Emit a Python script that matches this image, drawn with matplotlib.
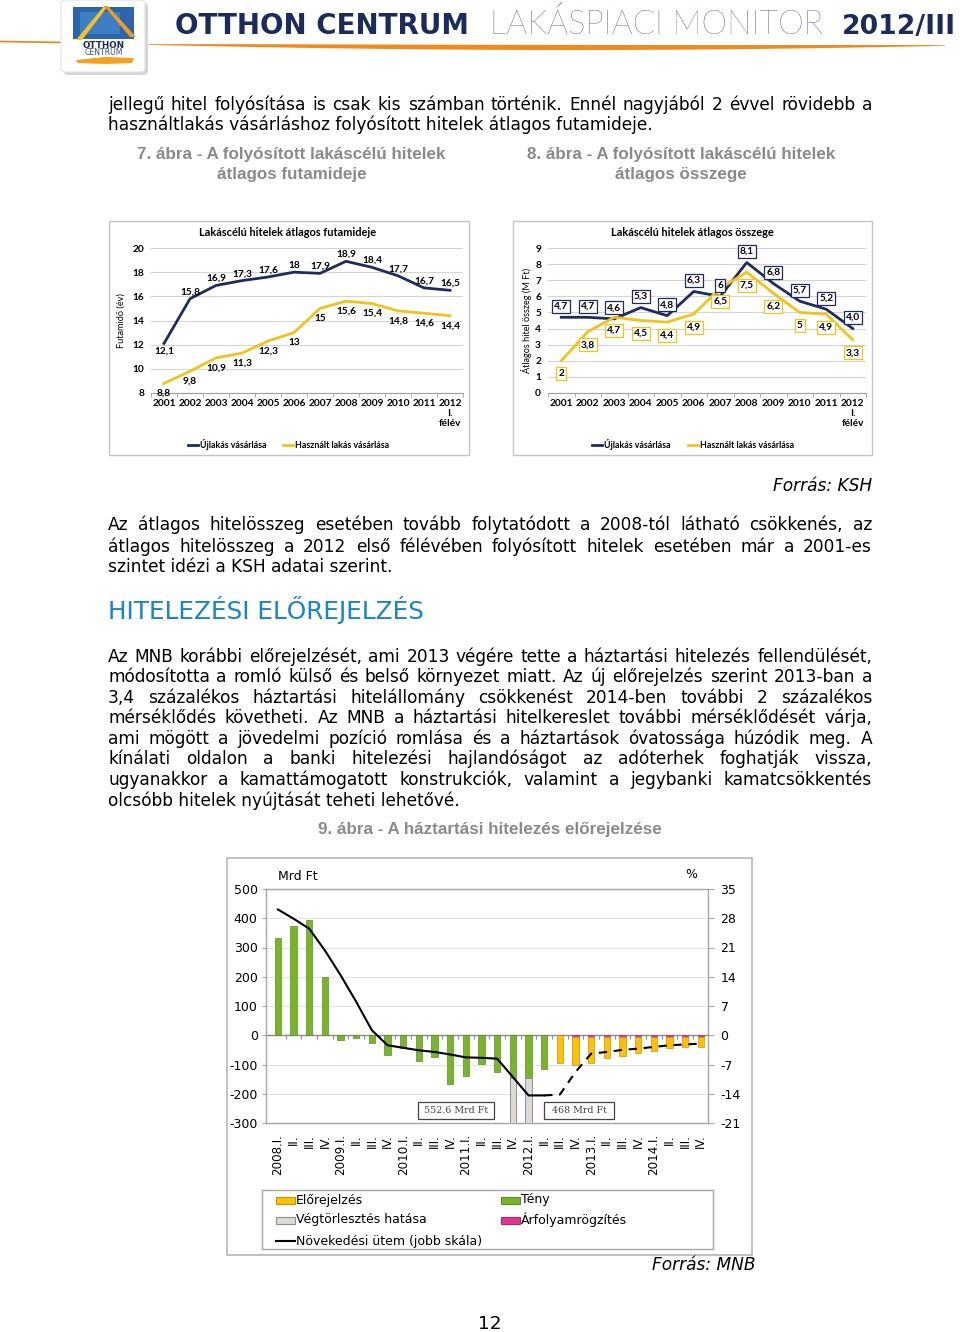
import numpy as np
import matplotlib
matplotlib.use('Agg')
import matplotlib.pyplot as plt
from matplotlib import font_manager as fm
from matplotlib.patches import Rectangle, FancyBboxPatch, Polygon

plt.rcParams['axes.unicode_minus'] = False

# ------------------------------------------------------------------ data
years = ['2001', '2002', '2003', '2004', '2005', '2006', '2007', '2008',
         '2009', '2010', '2011', '2012\nI.\nfélév']
term_new = [12.1, 15.8, 16.9, 17.3, 17.6, 18, 17.9, 18.9, 18.4, 17.7, 16.7, 16.5]
term_used = [8.8, 9.8, 10.9, 11.3, 12.3, 13, 15, 15.6, 15.4, 14.8, 14.6, 14.4]
amount_new = [4.7, 4.7, 4.6, 5.3, 4.8, 6.3, 6, 8.1, 6.8, 5.7, 5.2, 4.0]
amount_used = [2, 3.8, 4.7, 4.5, 4.4, 4.9, 6.5, 7.5, 6.2, 5, 4.9, 3.3]
amount_new_lbl = ['4,7', '4,7', '4,6', '5,3', '4,8', '6,3', '6', '8,1', '6,8', '5,7', '5,2', '4,0']

quarters = ['2008.I.', 'II.', 'III.', 'IV.', '2009.I.', 'II.', 'III.', 'IV.',
            '2010.I.', 'II.', 'III.', 'IV.', '2011.I.', 'II.', 'III.', 'IV.',
            '2012.I.', 'II.', 'III.', 'IV.', '2013.I.', 'II.', 'III.', 'IV.',
            '2014.I.', 'II.', 'III.', 'IV.']
actual = [334, 373, 394, 199, -15, -8, -25, -66, -43, -87, -76, -165,
          -140, -97, -125, -147, -147, -117]
fx_fixing = [0, -6, -6, -6, -6, -6, -6, -6, -6, -6]
forecast = [-94, -94, -88, -71, -64, -54, -47, -39, -34, -34]
prepay = [0, 0, 0, 0, 0, 0, 0, 0, 0, 0, 0, 0, 0, 0, 0, -552.6, -468, 0,
          0, 0, 0, 0, 0, 0, 0, 0, 0, 0]
growth = [30.1, 27.9, 25.5, 20.3, 14.4, 8.0, 1.2, -2.4, -3.0, -3.6, -4.0, -4.6,
          -5.3, -5.4, -5.6, -10.0, -14.4, -14.4, -14.2, -8.8, -4.4, -4.0, -3.5,
          -3.2, -2.8, -2.4, -2.2, -2.0]

# ------------------------------------------------------------------ page
W, H = 960, 1332
fig = plt.figure(figsize=(W / 100, H / 100), dpi=100)
bg = fig.add_axes([0, 0, 1, 1], zorder=0)
bg.set_xlim(0, W)
bg.set_ylim(H, 0)
bg.axis('off')
renderer = fig.canvas.get_renderer()


def has_font(name):
    try:
        fm.findfont(fm.FontProperties(family=name), fallback_to_default=False)
        return True
    except Exception:
        return False


NARROW = 'Liberation Sans Narrow' if has_font('Liberation Sans Narrow') else 'Liberation Sans'
SMALL = 'Lato' if has_font('Lato') else 'DejaVu Sans'


def px_axes(x0, y0, x1, y1, **kw):
    return fig.add_axes([x0 / W, 1 - y1 / H, (x1 - x0) / W, (y1 - y0) / H], **kw)


def measure(s, **kw):
    t = bg.text(0, 0, s, **kw)
    w = t.get_window_extent(renderer).width
    t.remove()
    return w


def fit_size(s, width, base=12.0, **kw):
    return base * width / measure(s, fontsize=base, **kw)


def para(lines, x0, x1, ybase, dy, fs, color='black'):
    for i, line in enumerate(lines):
        y = ybase + i * dy
        if i == len(lines) - 1:
            bg.text(x0, y, line, fontsize=fs, va='baseline', ha='left', color=color)
            continue
        words = line.split()
        ws = [measure(w, fontsize=fs) for w in words]
        gap = (x1 - x0 - sum(ws)) / (len(words) - 1)
        x = x0
        for w, wd in zip(words, ws):
            bg.text(x, y, w, fontsize=fs, va='baseline', ha='left', color=color)
            x += wd + gap


NAVY = '#1b2c5c'
ORANGE = '#f08a1d'

# ---------------------------------------------------------------- header
xs = np.linspace(148, 945, 80)
t = (xs - 148) / 797
center = 44.5 + 3.0 * np.sin(np.pi * t * 0.9)
th = 0.6 + 4.5 * np.sin(np.pi * t) ** 0.8
bg.add_patch(Polygon(np.column_stack([np.r_[xs, xs[::-1]],
                                      np.r_[center - th / 2, (center + th / 2)[::-1]]]),
                     closed=True, fc=ORANGE, ec='none', zorder=1))
bg.plot([0, 64], [41.5, 42.5], color=ORANGE, lw=1.3, zorder=1)
# logo
bg.add_patch(FancyBboxPatch((64, 3), 84, 72, boxstyle='round,pad=0,rounding_size=4',
                            fc='#d5d5d5', ec='none', zorder=2))
bg.add_patch(FancyBboxPatch((61, 0), 84, 72, boxstyle='round,pad=0,rounding_size=4',
                            fc='white', ec='#e2e2e2', lw=0.8, zorder=3))
bg.add_patch(Rectangle((73, 7), 61, 32, fc='#2b66ad', ec='none', zorder=4))
bg.add_patch(Rectangle((80, 12), 40, 22, fc='#4a8fd4', ec='none', zorder=4, alpha=0.6))
bg.add_patch(Polygon([[76, 40], [104, 6], [108, 6], [82, 40]], closed=True,
                     fc='#f6c21c', ec='none', zorder=5))
bg.add_patch(Polygon([[104, 6], [108, 6], [136, 37], [130, 37]], closed=True,
                     fc='#f39a1e', ec='none', zorder=5))
bg.text(104, 45, 'OTTHON', fontsize=6.3, fontweight='bold', color=NAVY,
        ha='center', va='center', zorder=6)
bg.text(104, 52.5, 'CENTRUM', fontsize=5.6, color='#3a4d7a', ha='center',
        va='center', zorder=6)
bg.add_patch(Polygon([[76, 60], [105, 57], [134, 58], [132, 63], [105, 64], [78, 63]],
                     closed=True, fc='#f3a21d', ec='none', zorder=5))

fs_t1 = fit_size('OTTHON CENTRUM', 295, fontweight='bold')
bg.text(175, 34, 'OTTHON CENTRUM', fontsize=fs_t1, fontweight='bold', color=NAVY,
        ha='left', va='baseline')
fs_t2 = fit_size('LAKÁSPIACI MONITOR', 332, family=SMALL, fontweight='light')
bg.text(490, 34, 'LAKÁSPIACI MONITOR', fontsize=fs_t2, family=SMALL,
        fontweight='light', color=NAVY, ha='left', va='baseline')
fs_t3 = fit_size('2012/III', 113, fontweight='bold')
bg.text(842, 34, '2012/III', fontsize=fs_t3, fontweight='bold', color=NAVY,
        ha='left', va='baseline')

# ----------------------------------------------------------- body texts
p1 = ['jellegű hitel folyósítása is csak kis számban történik. Ennél nagyjából 2 évvel rövidebb a',
      'használtlakás vásárláshoz folyósított hitelek átlagos futamideje.']
FS = fit_size(p1[-1], 543)
para(p1, 108, 872, 109.5, 21, FS)

GRAY = '#8a8a8a'
fs_c = fit_size('7. ábra - A folyósított lakáscélú hitelek', 307, family=NARROW,
                fontweight='bold')
for cx, l1, l2 in [(291.5, '7. ábra - A folyósított lakáscélú hitelek', 'átlagos futamideje'),
                   (681, '8. ábra - A folyósított lakáscélú hitelek', 'átlagos összege')]:
    bg.text(cx, 159, l1, fontsize=fs_c, family=NARROW, fontweight='bold', color=GRAY,
            ha='center', va='baseline')
    bg.text(cx, 179, l2, fontsize=fs_c, family=NARROW, fontweight='bold', color=GRAY,
            ha='center', va='baseline')

bg.text(872, 491, 'Forrás: KSH', fontsize=FS, style='italic', ha='right', va='baseline')

p2 = ['Az átlagos hitelösszeg esetében tovább folytatódott a 2008-tól látható csökkenés, az',
      'átlagos hitelösszeg a 2012 első félévében folyósított hitelek esetében már a 2001-es',
      'szintet idézi a KSH adatai szerint.']
para(p2, 108, 872, 530.5, 21, FS)

fs_h = fit_size('HITELEZÉSI ELŐREJELZÉS', 314)
bg.text(108, 619, 'HITELEZÉSI ELŐREJELZÉS', fontsize=fs_h, color='#1a85c6',
        ha='left', va='baseline')

p3 = ['Az MNB korábbi előrejelzését, ami 2013 végére tette a háztartási hitelezés fellendülését,',
      'módosította a romló külső és belső környezet miatt. Az új előrejelzés szerint 2013-ban a',
      '3,4 százalékos háztartási hitelállomány csökkenést 2014-ben további 2 százalékos',
      'mérséklődés követheti. Az MNB a háztartási hitelkereslet további mérséklődését várja,',
      'ami mögött a jövedelmi pozíció romlása és a háztartások óvatossága húzódik meg. A',
      'kínálati oldalon a banki hitelezési hajlandóságot az adóterhek foghatják vissza,',
      'ugyanakkor a kamattámogatott konstrukciók, valamint a jegybanki kamatcsökkentés',
      'olcsóbb hitelek nyújtását teheti lehetővé.']
para(p3, 108, 872, 661.5, 20.6, FS)

fs_c9 = fit_size('9. ábra - A háztartási hitelezés előrejelzése', 340, family=NARROW,
                 fontweight='bold')
bg.text(490, 834, '9. ábra - A háztartási hitelezés előrejelzése', fontsize=fs_c9,
        family=NARROW, fontweight='bold', color=GRAY, ha='center', va='baseline')

bg.text(756, 1270, 'Forrás: MNB', fontsize=FS, style='italic', ha='right', va='baseline')
bg.text(490, 1329, '12', fontsize=FS + 1, ha='center', va='baseline')

# ------------------------------------------------------- small charts
YEL = '#f2c318'
NV = '#1e2b5e'
SFS = 7.3


def small_chart(box, area, title, title_x, ylim, ystep, new, used, new_lbl, used_lbl,
                ylabel, ylabel_x, boxed, leg):
    bx0, by0, bx1, by1 = box
    bg.add_patch(Rectangle((bx0, by0), bx1 - bx0, by1 - by0, fc='white', ec='#c4c4c4',
                           lw=1.0, zorder=1))
    ax = px_axes(*area)
    ax.set_zorder(2)
    ax.patch.set_alpha(0)
    x = np.arange(len(new))
    ax.set_xlim(-0.5, len(new) - 0.5)
    ax.set_ylim(*ylim)
    ax.set_yticks(np.arange(ylim[0], ylim[1] + 0.01, ystep))
    ax.yaxis.grid(True, color='#d4d4d4', lw=0.8)
    ax.set_axisbelow(True)
    for s in ['left', 'right', 'top']:
        ax.spines[s].set_visible(False)
    ax.spines['bottom'].set_color('#a0a0a0')
    ax.set_xticks(x)
    ax.set_xticklabels(years, family=SMALL, fontweight='bold', fontsize=SFS,
                       linespacing=1.1, va='top')
    ax.set_xticks(np.arange(-0.5, len(new), 1), minor=True)
    ax.tick_params(axis='x', which='major', length=0, pad=4.5)
    ax.tick_params(axis='x', which='minor', length=3, color='#a0a0a0')
    ax.tick_params(axis='y', length=0, labelsize=SFS, pad=5)
    for lab in ax.get_yticklabels():
        lab.set_family(SMALL)
        lab.set_fontweight('bold')
    ax.plot(x, new, color=NV, lw=2.0, solid_joinstyle='round')
    ax.plot(x, used, color=YEL, lw=2.0, solid_joinstyle='round')
    for i in range(len(new)):
        if boxed:
            bn = dict(boxstyle='square,pad=0.2', fc='white', ec=NV, lw=0.9)
            bu = dict(boxstyle='square,pad=0.2', fc='white', ec=YEL, lw=0.9)
            dn, du = 11, -13
        else:
            bn = bu = None
            dn, du = 7, -10
            if i == 0:
                dn = -8
        ax.annotate(new_lbl[i], (x[i], new[i]), xytext=(0, dn * 0.72),
                    textcoords='offset points', ha='center', va='center',
                    fontsize=SFS, family=SMALL, fontweight='bold', bbox=bn)
        ax.annotate(used_lbl[i], (x[i], used[i]), xytext=(0, du * 0.72),
                    textcoords='offset points', ha='center', va='center',
                    fontsize=SFS, family=SMALL, fontweight='bold', bbox=bu)
    bg.text(title_x, 233, title, family=SMALL, fontweight='bold', fontsize=7.9,
            ha='center', va='center', zorder=3)
    bg.text(ylabel_x, (area[1] + area[3]) / 2, ylabel, family=SMALL, fontsize=6.6,
            rotation=90, ha='center', va='center', zorder=3)
    lx1, lt1, lx2, lt2 = leg
    bg.plot([lx1, lx1 + 10], [445, 445], color=NV, lw=2.0, zorder=3)
    bg.text(lt1, 445, 'Újlakás vásárlása', family=SMALL, fontweight='bold', fontsize=6.4,
            ha='left', va='center', zorder=3)
    bg.plot([lx2, lx2 + 10], [445, 445], color=YEL, lw=2.0, zorder=3)
    bg.text(lt2, 445, 'Használt lakás vásárlása', family=SMALL, fontweight='bold',
            fontsize=6.4, ha='left', va='center', zorder=3)
    return ax


def comma(v):
    return ('%g' % v).replace('.', ',')


small_chart((109, 221, 469, 455), (151, 248, 463, 393),
            'Lakáscélú hitelek átlagos futamideje', 288, (8, 20), 2,
            term_new, term_used, [comma(v) for v in term_new],
            [comma(v) for v in term_used], 'Futamidő (év)', 121, False,
            (188, 200, 283, 295))
small_chart((513, 221, 872, 455), (548, 248, 866, 393),
            'Lakáscélú hitelek átlagos összege', 692, (0, 9), 1,
            amount_new, amount_used, amount_new_lbl,
            [comma(v) for v in amount_used], 'Átlagos hitel összeg (M Ft)', 526, True,
            (592, 604, 688, 700))

# ----------------------------------------------------------- chart 9
bg.add_patch(Rectangle((227, 858), 525, 397, fc='white', ec='#b8b8b8', lw=1.2, zorder=1))
ax = px_axes(266, 889, 708, 1123)
ax.set_zorder(2)
ax.patch.set_alpha(0)
n = len(quarters)
xq = np.arange(n)
ax.set_xlim(-0.76, n - 1 + 0.46)
ax.set_ylim(-300, 500)
ax.set_yticks(np.arange(-300, 501, 100))
ax.yaxis.grid(True, color='#e4e4e4', lw=0.8)
ax.set_axisbelow(True)
for s in ['left', 'right', 'top', 'bottom']:
    ax.spines[s].set_color('#a6a6a6')
    ax.spines[s].set_linewidth(1.0)
ax.tick_params(axis='y', length=3, color='#a6a6a6', labelsize=9, pad=3)
ax.set_xticks(xq)
ax.set_xticklabels(quarters, rotation=90, fontsize=8.6, va='top', ha='center')
ax.tick_params(axis='x', length=0, pad=8)
ax.axhline(0, color='#8c8c8c', lw=1.0, zorder=1)
ax.vlines(np.arange(0.5, n - 1, 1), -12, 0, color='#8c8c8c', lw=0.8, zorder=1)

bw = 0.4
xa = np.arange(len(actual))
ax.bar(xa, actual, width=bw, color='#7ab42c', ec='#5d8f1c', lw=0.5, zorder=3)
for i, v in enumerate(prepay):
    if v != 0:
        ax.bar(i, v - actual[i], bottom=actual[i], width=bw, color='#dedbd4',
               ec='#8f8f8f', lw=0.7, zorder=3)
xf = len(actual) + np.arange(len(forecast))
ax.bar(xf, fx_fixing, width=bw, color='#e4378c', ec='#b02a6a', lw=0.4, zorder=3)
ax.bar(xf, forecast, bottom=fx_fixing, width=bw, color='#ffc000', ec='#c8950a',
       lw=0.5, zorder=3)

ax2 = ax.twinx()
ax2.set_ylim(-21, 35)
ax2.set_yticks(np.arange(-21, 36, 7))
ax2.tick_params(axis='y', length=4, color='#a6a6a6', labelsize=9, pad=5)
for s in ['left', 'right', 'top', 'bottom']:
    ax2.spines[s].set_visible(False)
ks = len(actual)
ax2.plot(xq[:ks], growth[:ks], color='black', lw=1.5, zorder=5)
ax2.plot(xq[ks - 1:], growth[ks - 1:], color='black', lw=1.5, ls=(0, (4, 3.2)), zorder=5)

# annotation boxes for prepayment bars
for (x0, x1), txt in [((8.95, 13.8), '552.6 Mrd Ft'), ((16.98, 21.47), '468 Mrd Ft')]:
    ax.add_patch(Rectangle((x0, -288), x1 - x0, 61, fc='white', ec='#444444', lw=0.9,
                           zorder=6))
    ax.text((x0 + x1) / 2, -257.5, txt, family='DejaVu Serif', fontsize=6.8,
            color='#444444', ha='center', va='center', zorder=7)

bg.text(278, 876, 'Mrd Ft', fontsize=9, ha='left', va='center', zorder=3)
bg.text(691, 875, '%', fontsize=9, ha='center', va='center', zorder=3)

# legend of chart 9
bg.add_patch(Rectangle((262, 1190), 451, 59, fc='white', ec='#a6a6a6', lw=1.0, zorder=2))
items = [(276, 1200, 'patch', '#ffc000', '#c8950a', 'Előrejelzés'),
         (276, 1220, 'patch', '#dedbd4', '#8f8f8f', 'Végtörlesztés hatása'),
         (276, 1241, 'line', 'black', None, 'Növekedési ütem (jobb skála)'),
         (501, 1200, 'patch', '#7ab42c', '#5d8f1c', 'Tény'),
         (501, 1220, 'patch', '#e4378c', '#b02a6a', 'Árfolyamrögzítés')]
for x0, y0, kind, c, e, txt in items:
    if kind == 'patch':
        bg.add_patch(Rectangle((x0, y0 - 3.5), 19, 7, fc=c, ec=e, lw=0.8, zorder=3))
    else:
        bg.plot([x0, x0 + 19], [y0, y0], color=c, lw=1.5, zorder=3)
    bg.text(x0 + 20, y0, txt, fontsize=9, ha='left', va='center', zorder=3)

fig.savefig('out.png', dpi=100, facecolor='white')
